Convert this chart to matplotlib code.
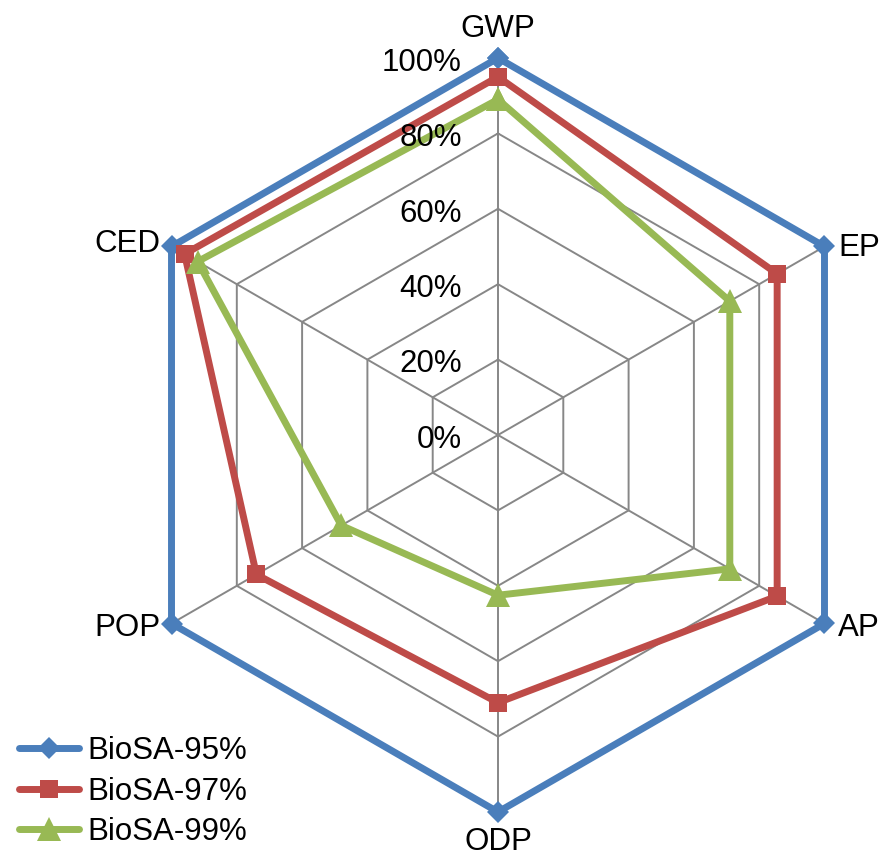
import numpy as np
import matplotlib
matplotlib.use("Agg")
import matplotlib.pyplot as plt
from matplotlib.lines import Line2D

plt.rcParams['font.family'] = ['Liberation Sans', 'DejaVu Sans']

# Impact categories (clockwise from top) and normalised results
categories = ["GWP", "EP", "AP", "ODP", "POP", "CED"]
bio95 = [100, 100, 100, 100, 100, 100]
bio97 = [95, 85.5, 85.5, 71, 74, 96]
bio99 = [89, 71, 71, 42.5, 48, 92]
series_names = ["BioSA-95%", "BioSA-97%", "BioSA-99%"]
tick_levels = [0, 20, 40, 60, 80, 100]
tick_labels = ["0%", "20%", "40%", "60%", "80%", "100%"]

colors = ["#4A7EBB", "#BE4B48", "#98B954"]
markers = ["D", "s", "^"]
msizes = [11, 13, 17]
FS = 22.5

W, H, DPI = 886, 864, 100
fig = plt.figure(figsize=(W / DPI, H / DPI), dpi=DPI)
cx, cy, R = 498, 435, 377
ax = fig.add_axes([(cx - R) / W, (H - cy - R) / H, 2 * R / W, 2 * R / H],
                  projection="polar")
ax.set_theta_zero_location("N")
ax.set_theta_direction(-1)
ax.set_ylim(0, 100)
ax.grid(False)
ax.spines["polar"].set_visible(False)
ax.set_xticks([])
ax.set_yticks([])
ax.patch.set_alpha(0)

n = len(categories)
theta = np.deg2rad(np.arange(n) * 360.0 / n)
theta_closed = np.append(theta, theta[0])

# hexagonal grid rings and spokes
grid_kw = dict(color="#878787", lw=1.4, zorder=1, clip_on=False)
for lvl in tick_levels[1:]:
    ax.plot(theta_closed, [lvl] * (n + 1), **grid_kw)
for t in theta:
    ax.plot([t, t], [0, tick_levels[-1]], **grid_kw)

# radial value labels along the top spoke
for lvl, lab in zip(tick_levels, tick_labels):
    ax.annotate(lab, xy=(0, lvl), xytext=(-26, -3.5), textcoords="offset points",
                ha="right", va="center", fontsize=FS, color="black", zorder=6)

# category labels
cat_offsets = [(0, 21), (10, -1), (10, -3.5), (0, -21.5), (-8, -3.5), (-8, 2)]
cat_ha = ["center", "left", "left", "center", "right", "right"]
for t, lab, off, ha in zip(theta, categories, cat_offsets, cat_ha):
    ax.annotate(lab, xy=(t, 100), xytext=off, textcoords="offset points",
                ha=ha, va="center", fontsize=FS, color="black", zorder=6)

# data series
for vals, c, m, ms in zip([bio95, bio97, bio99], colors, markers, msizes):
    v = np.append(vals, vals[0])
    ax.plot(theta_closed, v, color=c, lw=5, marker=m, markersize=ms,
            markeredgewidth=0, zorder=3, solid_joinstyle="round",
            clip_on=False)

handles = [Line2D([], [], color=c, lw=5, marker=m, markersize=ms,
                  markeredgewidth=0, solid_capstyle="round")
           for c, m, ms in zip(colors, markers, msizes)]
fig.legend(handles, series_names, loc="lower left",
           bbox_to_anchor=(0.0056, 0.0027), frameon=False, fontsize=FS,
           handlelength=1.92, handletextpad=0.25, labelspacing=0.34,
           borderpad=0.46, borderaxespad=0.0)

fig.savefig("out.png", dpi=DPI)
